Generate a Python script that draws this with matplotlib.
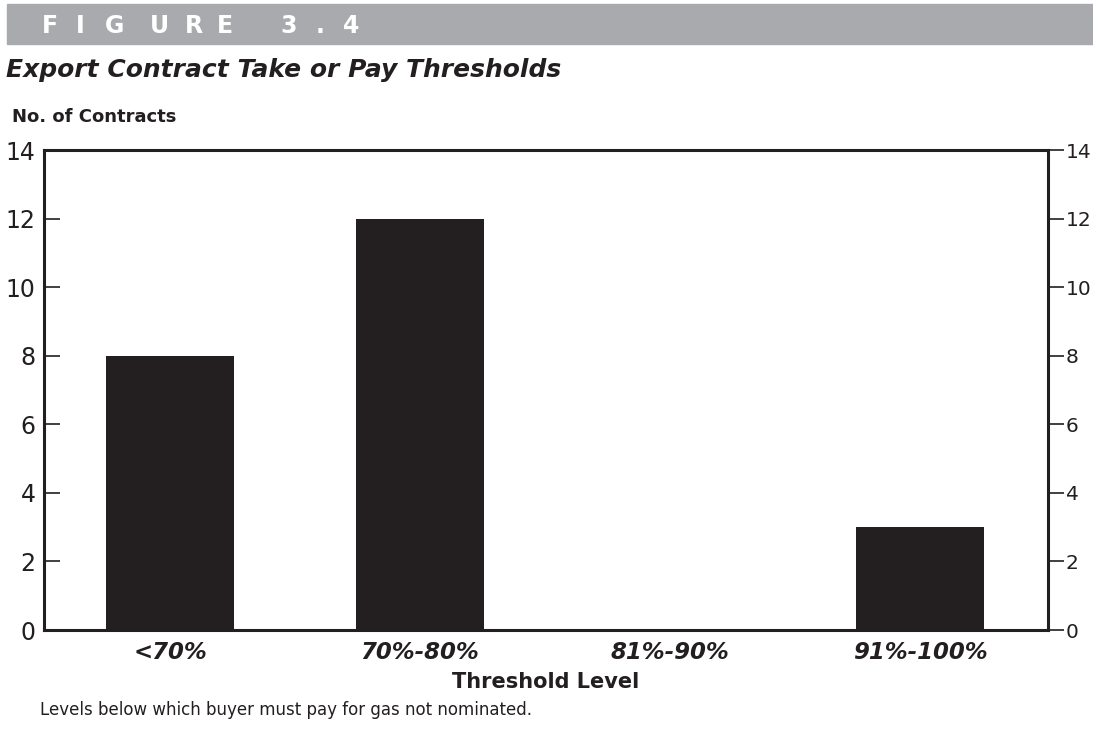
import matplotlib
matplotlib.use("Agg")
import matplotlib.pyplot as plt
from matplotlib.patches import Rectangle

categories = ["<70%", "70%-80%", "81%-90%", "91%-100%"]
values = [8, 12, 0, 3]
yticks = [0, 2, 4, 6, 8, 10, 12, 14]
header_chars = list("FIGURE3.4")
header_x = [42, 76, 105, 150, 185, 217, 280, 316, 343]

ink = "#231f20"
fig = plt.figure(figsize=(10.93, 7.32), dpi=100)
ax = fig.add_axes([44/1093, 1-630/732, (1048-44)/1093, (630-150)/732])

x = list(range(len(categories)))
ax.bar(x, values, width=0.51, color=ink, zorder=2)
ax.set_xlim(-0.504, 3.512)
ax.set_ylim(0, 14)

for s in ax.spines.values():
    s.set_linewidth(2.2)
    s.set_color(ink)

ax.set_yticks(yticks)
ax.set_yticklabels([str(v) for v in yticks], fontsize=17, color=ink)
ax.tick_params(axis="y", direction="in", length=11.5, width=1.2, pad=6, colors=ink)

ax2 = ax.twinx()
ax2.set_ylim(0, 14)
ax2.set_yticks(yticks)
ax2.set_yticklabels([str(v) for v in yticks], fontsize=14.5, color=ink)
ax2.tick_params(axis="y", direction="out", length=11.5, width=1.2, pad=1.2, colors=ink)
for s in ax2.spines.values():
    s.set_visible(False)

ax.set_xticks(x)
ax.set_xticklabels(categories, fontsize=16.5, fontweight="bold", fontstyle="italic", color=ink)
ax.tick_params(axis="x", length=0, pad=8)
ax.set_xlabel("Threshold Level", fontsize=15, fontweight="bold", color=ink, labelpad=6)

# header band
fig.patches.append(Rectangle((7/1093, 1-44/732), 1-7/1093, 40/732,
                             transform=fig.transFigure, color="#a9aaad", zorder=0))
for ch, px in zip(header_chars, header_x):
    fig.text(px/1093, 1-26/732, ch, fontsize=17, fontweight="bold", color="white",
             va="center", ha="left")
fig.text(6/1093, 1-70/732, "Export Contract Take or Pay Thresholds", fontsize=18,
         fontweight="bold", fontstyle="italic", color=ink, va="center", ha="left")
fig.text(12/1093, 1-117/732, "No. of Contracts", fontsize=13, fontweight="bold",
         color=ink, va="center", ha="left")
fig.text(40/1093, 1-710/732, "Levels below which buyer must pay for gas not nominated.",
         fontsize=12, color=ink, va="center", ha="left")

fig.savefig("out.png", dpi=100)
